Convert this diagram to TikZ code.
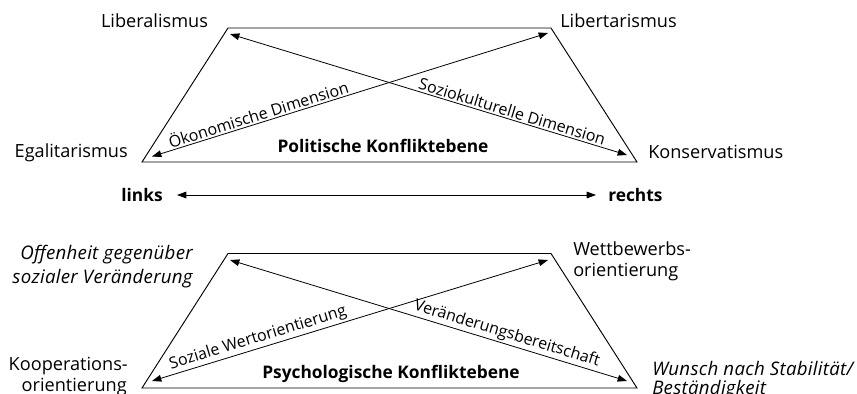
\documentclass[tikz,border=0pt]{standalone}
\usepackage{fontspec}
\setmainfont{Open Sans}
\usetikzlibrary{arrows.meta}
\begin{document}
\begin{tikzpicture}[x=0.75pt,y=-0.75pt,
  edge/.style={line width=0.7pt},
  dimarrow/.style={line width=0.6pt,{Triangle[length=7pt,width=5pt]}-{Triangle[length=7pt,width=5pt]}},
  lbl/.style={font=\fontsize{13.6}{16}\selectfont, inner sep=0pt},
  itlbl/.style={font=\itshape\addfontfeatures{LetterSpace=1.5}\fontsize{14}{16}\selectfont, inner sep=0pt},
  dimlbl/.style={font=\fontsize{12}{14}\selectfont, sloped, above, inner sep=1.2pt},
  plane/.style={font=\bfseries\fontsize{13}{16}\selectfont, inner sep=0pt}
]
\useasboundingbox (0,0) rectangle (857,393);
% ---------- upper plane ----------
\coordinate (tlA) at (228,28);
\coordinate (trA) at (551,28);
\coordinate (brA) at (637,162);
\coordinate (blA) at (142,162);
\coordinate (eA1) at (152,156.5);
\coordinate (eA2) at (548,33);
\coordinate (eA3) at (230,34);
\coordinate (eA4) at (627,155);
\draw[edge] (tlA) -- (trA) -- (brA) -- (blA) -- cycle;
\draw[dimarrow] (eA1) -- node[dimlbl, pos=0.275] (oek) {Ökonomische Dimension} (eA2);
\draw[dimarrow] (eA3) -- node[dimlbl, pos=0.705] (sozk) {Soziokulturelle Dimension} (eA4);
\node[lbl, anchor=base] (lib) at (154.5,27.5) {Liberalismus};
\node[lbl, anchor=base west] (libt) at (560,27.5) {Libertarismus};
\node[lbl, anchor=base east] (ega) at (128,157.5) {Egalitarismus};
\node[lbl, anchor=base west] (kons) at (648,158) {Konservatismus};
\node[plane, anchor=base] (pol) at (383,152) {Politische Konfliktebene};
% ---------- axis ----------
\node[plane, anchor=base east] (links) at (163,201.5) {links};
\node[plane, anchor=base west] (rechts) at (608,201.5) {rechts};
\coordinate (axL) at (177,195);
\coordinate (axR) at (596,195);
\draw[dimarrow] (axL) -- (axR);
% ---------- lower plane ----------
\coordinate (tlB) at (228,253.5);
\coordinate (trB) at (551,253.5);
\coordinate (brB) at (637,388);
\coordinate (blB) at (142,388);
\coordinate (eB1) at (152,381);
\coordinate (eB2) at (548,260);
\coordinate (eB3) at (230,260);
\coordinate (eB4) at (627,381);
\draw[edge] (tlB) -- (trB) -- (brB) -- (blB) -- cycle;
\draw[dimarrow] (eB1) -- node[dimlbl, pos=0.275] (swo) {Soziale Wertorientierung} (eB2);
\draw[dimarrow] (eB3) -- node[dimlbl, pos=0.69] (vbr) {Veränderungsbereitschaft} (eB4);
\node[itlbl, anchor=base east] (off1) at (193,259) {Offenheit gegenüber};
\node[itlbl, anchor=base east] (off2) at (193,283) {sozialer Veränderung};
\node[lbl, anchor=base east] (koop1) at (128,370) {Kooperations-};
\node[lbl, anchor=base east] (koop2) at (127,391) {orientierung};
\node[lbl, anchor=base west] (wett1) at (573,255) {Wettbewerbs-};
\node[lbl, anchor=base west] (wett2) at (573,276) {orientierung};
\node[itlbl, anchor=base west] (wun1) at (652,375) {Wunsch nach Stabilität/};
\node[itlbl, anchor=base west] (wun2) at (652,394) {Beständigkeit};
\node[plane, anchor=base] (psy) at (391,378) {Psychologische Konfliktebene};
\end{tikzpicture}
\end{document}
